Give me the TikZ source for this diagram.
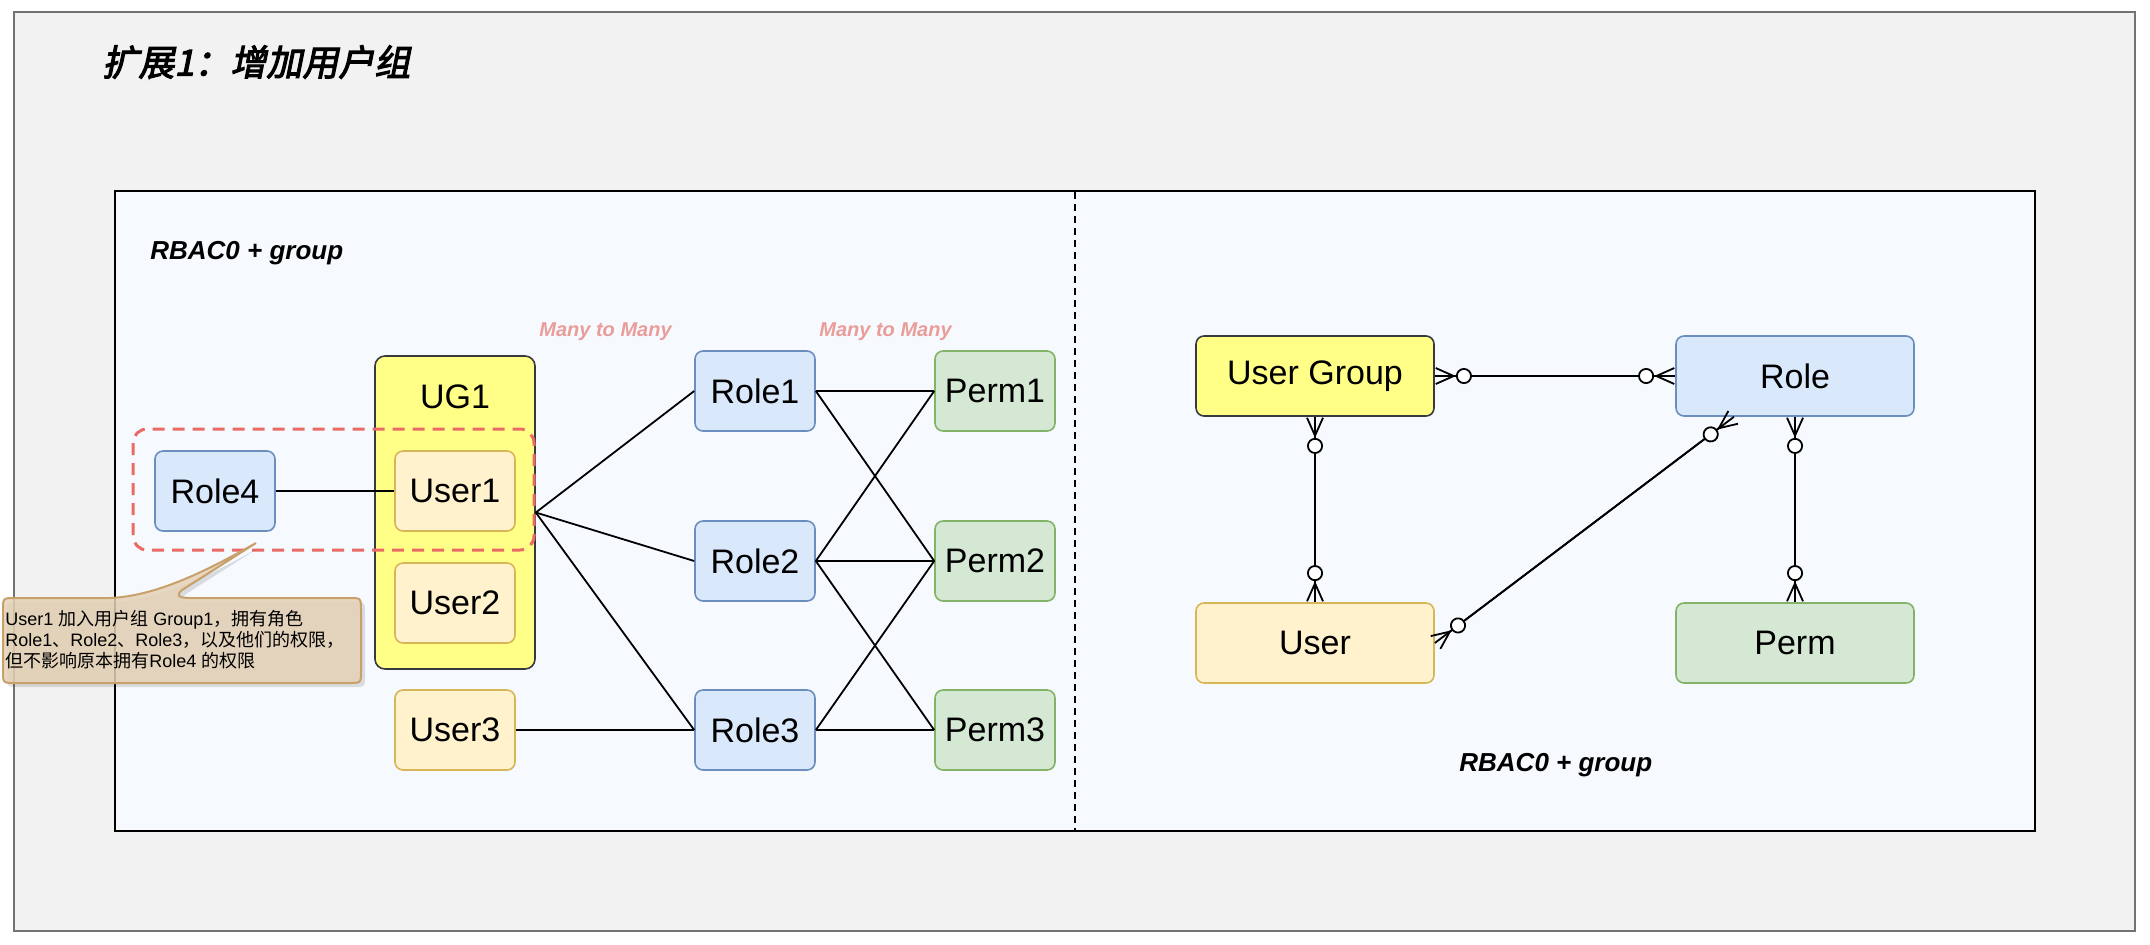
\documentclass[tikz,border=0pt]{standalone}
\usepackage{fontspec}
\setmainfont{Liberation Sans}
\newfontfamily\cjk{Noto Sans CJK SC}
\newfontfamily\cjktitle{Noto Sans CJK SC}[FakeSlant=0.2,FakeBold=3]
\usetikzlibrary{arrows.meta,calc}
\definecolor{outerbg}{RGB}{242,242,242}
\definecolor{outerdraw}{RGB}{115,115,115}
\definecolor{panelbg}{RGB}{246,250,255}
\definecolor{blueF}{HTML}{DAE8FC}
\definecolor{blueD}{HTML}{6C8EBF}
\definecolor{greenF}{HTML}{D5E8D4}
\definecolor{greenD}{HTML}{82B366}
\definecolor{yelF}{HTML}{FFF2CC}
\definecolor{yelD}{HTML}{D6B656}
\definecolor{ugF}{HTML}{FFFF88}
\definecolor{ugD}{HTML}{36393D}
\definecolor{redD}{HTML}{EA6B66}
\definecolor{manyC}{RGB}{234,156,152}
\definecolor{noteF}{RGB}{230,210,182}
\definecolor{noteD}{RGB}{200,160,105}
\begin{document}
\begin{tikzpicture}[x=0.5pt,y=-0.5pt,
  box/.style={draw, rounded corners=4pt, line width=0.8pt, minimum width=60pt, minimum height=40pt, inner sep=0pt, font=\fontsize{17}{20}\selectfont},
  rolebox/.style={box, fill=blueF, draw=blueD},
  permbox/.style={box, fill=greenF, draw=greenD},
  userbox/.style={box, fill=yelF, draw=yelD},
  erbox/.style={minimum width=119pt},
  link/.style={draw=black, line width=0.9pt},
  erline/.style={line width=0.9pt,
    {Straight Barb[reversed,length=9pt,width=8pt] Circle[open,fill=white,length=8pt]}-{Circle[open,fill=white,length=8pt] Straight Barb[reversed,length=9pt,width=8pt]}},
  heading/.style={font=\fontsize{13}{15}\selectfont\bfseries\itshape, inner sep=0pt},
  many/.style={font=\fontsize{10}{12}\selectfont\bfseries\itshape, text=manyC, inner sep=0pt}
]
\useasboundingbox (0,0) rectangle (2150,944);
% outer frame
\filldraw[fill=outerbg, draw=outerdraw, line width=1pt] (14,12) rectangle (2135,931);
\node[anchor=west, inner sep=0pt, font=\fontsize{18}{20}\selectfont] (title) at (102,62) {\cjktitle 扩展1：增加用户组};
% panel
\filldraw[fill=panelbg, draw=black, line width=1pt] (115,191) rectangle (2035,831);
\coordinate (divtop) at (1075,192);
\coordinate (divbot) at (1075,830);
\draw[line width=1pt, dash pattern=on 3.5pt off 2.5pt] (divtop) -- (divbot);
\node[heading, anchor=west] (h1) at (150,253) {RBAC0 + group};
\node[heading, anchor=west] (h2) at (1459,765) {RBAC0 + group};
\node[many, anchor=west] (m1) at (539,332) {Many to Many};
\node[many, anchor=west] (m2) at (819,332) {Many to Many};
% left graph
\node[draw=ugD, fill=ugF, rounded corners=5pt, line width=0.8pt, minimum width=80pt, minimum height=156.5pt, inner sep=0pt] (ug1) at (455,512.5) {};
\node[font=\fontsize{17}{20}\selectfont, inner sep=0pt] (ug1t) at (455,397) {UG1};
\node[userbox] (user1) at (455,491) {User1};
\node[userbox] (user2) at (455,603) {User2};
\node[userbox] (user3) at (455,730) {User3};
\node[rolebox] (role4) at (215,491) {Role4};
\node[rolebox] (role1) at (755,391) {Role1};
\node[rolebox] (role2) at (755,561) {Role2};
\node[rolebox] (role3) at (755,730) {Role3};
\node[permbox] (perm1) at (995,391) {Perm1};
\node[permbox] (perm2) at (995,561) {Perm2};
\node[permbox] (perm3) at (995,730) {Perm3};
\draw[link] (role4.east) -- (user1.west);
\draw[link] (ug1.east) -- (role1.west);
\draw[link] (ug1.east) -- (role2.west);
\draw[link] (ug1.east) -- (role3.west);
\draw[link] (user3.east) -- (role3.west);
\draw[link] (role1.east) -- (perm1.west);
\draw[link] (role1.east) -- (perm2.west);
\draw[link] (role2.east) -- (perm1.west);
\draw[link] (role2.east) -- (perm2.west);
\draw[link] (role2.east) -- (perm3.west);
\draw[link] (role3.east) -- (perm2.west);
\draw[link] (role3.east) -- (perm3.west);
% red dashed group
\draw[draw=redD, line width=1.5pt, dash pattern=on 6pt off 4pt, rounded corners=7pt] (133,429) rectangle (534,550);
% right ER diagram
\node[box, erbox, fill=ugF, draw=ugD] (ugrp) at (1315,376) {User Group};
\node[rolebox, erbox] (role) at (1795,376) {Role};
\node[userbox, erbox] (user) at (1315,643) {User};
\node[permbox, erbox] (perm) at (1795,643) {Perm};
\coordinate (rolefoot) at ($(role.south west)!0.245!(role.south east)$);
\draw[line width=0.9pt] (ugrp.east) -- (role.west);
\draw[erline] (ugrp.east) -- (role.west);
\draw[line width=0.9pt] (ugrp.south) -- (user.north);
\draw[erline] (ugrp.south) -- (user.north);
\draw[line width=0.9pt] (role.south) -- (perm.north);
\draw[erline] (role.south) -- (perm.north);
\draw[line width=0.9pt] (user.east) -- (rolefoot);
\draw[erline] (user.east) -- (rolefoot);
% callout
\fill[black, opacity=0.12, shift={(4,4)}] (15,598) -- (110,598) .. controls (160,596) and (215,566) .. (256,543) -- (182,590) .. controls (176,595) and (178,598) .. (190,598) -- (349,598) .. controls (361,598) .. (361,610) -- (361,671) .. controls (361,683) .. (349,683) -- (15,683) .. controls (3,683) .. (3,671) -- (3,610) .. controls (3,598) .. (15,598) -- cycle;
\filldraw[fill=noteF, fill opacity=0.85, draw=noteD, line width=1pt] (15,598) -- (110,598) .. controls (160,596) and (215,566) .. (256,543) -- (182,590) .. controls (176,595) and (178,598) .. (190,598) -- (349,598) .. controls (361,598) .. (361,610) -- (361,671) .. controls (361,683) .. (349,683) -- (15,683) .. controls (3,683) .. (3,671) -- (3,610) .. controls (3,598) .. (15,598) -- cycle;
\node[anchor=west, align=left, inner sep=0pt, font=\fontsize{9}{10.5}\selectfont] (note) at (5,640) {User1 {\cjk 加入用户组} Group1{\cjk ，拥有角色}\\Role1{\cjk 、}Role2{\cjk 、}Role3{\cjk ，以及他们的权限，}\\{\cjk 但不影响原本拥有}Role4 {\cjk 的权限}};
\end{tikzpicture}
\end{document}
